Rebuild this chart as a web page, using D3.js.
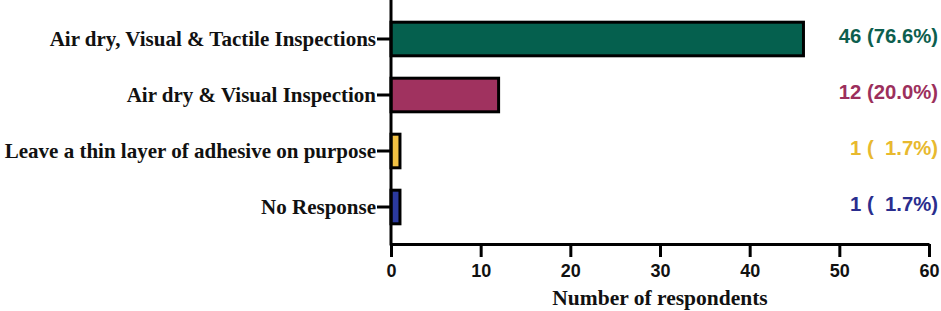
<!DOCTYPE html>
<html lang="en">
<head>
<meta charset="utf-8" />
<title>Number of respondents</title>
<style>
  body { margin: 0; padding: 0; background: #fff; }
  .cat text { font-family: "Liberation Serif", "Times New Roman", serif; font-weight: bold; font-size: 21px; fill: #111; }
  .xaxis text { font-family: "Liberation Sans", Arial, sans-serif; font-weight: bold; font-size: 18px; fill: #111; }
  .value { font-family: "Liberation Sans", Arial, sans-serif; font-weight: bold; font-size: 20.3px; white-space: pre; }
  .title { font-family: "Liberation Serif", "Times New Roman", serif; font-weight: bold; font-size: 21.5px; fill: #111; }
</style>
</head>
<body>
<div id="chart"></div>
<script src="https://d3js.org/d3.v7.min.js"></script>
<script>
const categories = [
  'Air dry, Visual & Tactile Inspections',
  'Air dry & Visual Inspection',
  'Leave a thin layer of adhesive on purpose',
  'No Response'
];
const counts = [46, 12, 1, 1];
const valueLabels = ['46 (76.6%)', '12 (20.0%)', '1 (  1.7%)', '1 (  1.7%)'];
const barColors = ['#05604e', '#a0325f', '#f0c043', '#2b3aa0'];
const textColors = ['#0d5e4e', '#9c2f5c', '#e8b92e', '#2a2d8e'];
const xTicks = [0, 10, 20, 30, 40, 50, 60];

const width = 941, height = 311;
const x0 = 391, x1 = 929, axisY = 244;

const svg = d3.select('#chart').append('svg')
    .attr('width', width)
    .attr('height', height);

const x = d3.scaleLinear().domain([0, 60]).range([x0, x1]);
const y = d3.scaleBand().domain(categories).range([11, 235])
    .paddingInner(0.4).paddingOuter(0.2);

// bars
svg.append('g')
  .selectAll('rect')
  .data(categories)
  .enter().append('rect')
    .attr('x', x(0))
    .attr('y', d => y(d))
    .attr('width', (d, i) => x(counts[i]) - x(0))
    .attr('height', y.bandwidth())
    .attr('fill', (d, i) => barColors[i])
    .attr('stroke', '#000')
    .attr('stroke-width', 3);

// y axis
const yAxis = svg.append('g')
    .attr('class', 'cat')
    .attr('transform', `translate(${x0},0)`)
    .call(d3.axisLeft(y).tickSize(14).tickPadding(1));
yAxis.select('.domain').remove();
yAxis.selectAll('line').attr('stroke', '#000').attr('stroke-width', 3);
svg.append('line')
    .attr('x1', x0).attr('x2', x0)
    .attr('y1', 0).attr('y2', axisY + 1.5)
    .attr('stroke', '#000').attr('stroke-width', 3);

// x axis
const xAxis = svg.append('g')
    .attr('class', 'xaxis')
    .attr('transform', `translate(0,${axisY})`)
    .call(d3.axisBottom(x).tickValues(xTicks).tickSize(13).tickSizeOuter(0).tickPadding(7));
xAxis.select('.domain').attr('stroke', '#000').attr('stroke-width', 3);
xAxis.selectAll('line').attr('stroke', '#000').attr('stroke-width', 3);

svg.append('text')
    .attr('class', 'title')
    .attr('x', (x0 + x1) / 2)
    .attr('y', 305)
    .attr('text-anchor', 'middle')
    .text('Number of respondents');

// value labels on the right
svg.append('g')
  .selectAll('text')
  .data(categories)
  .enter().append('text')
    .attr('class', 'value')
    .attr('x', 938)
    .attr('y', d => y(d) + y.bandwidth() / 2 - 3)
    .attr('dy', '0.35em')
    .attr('text-anchor', 'end')
    .attr('fill', (d, i) => textColors[i])
    .text((d, i) => valueLabels[i]);
</script>
</body>
</html>
